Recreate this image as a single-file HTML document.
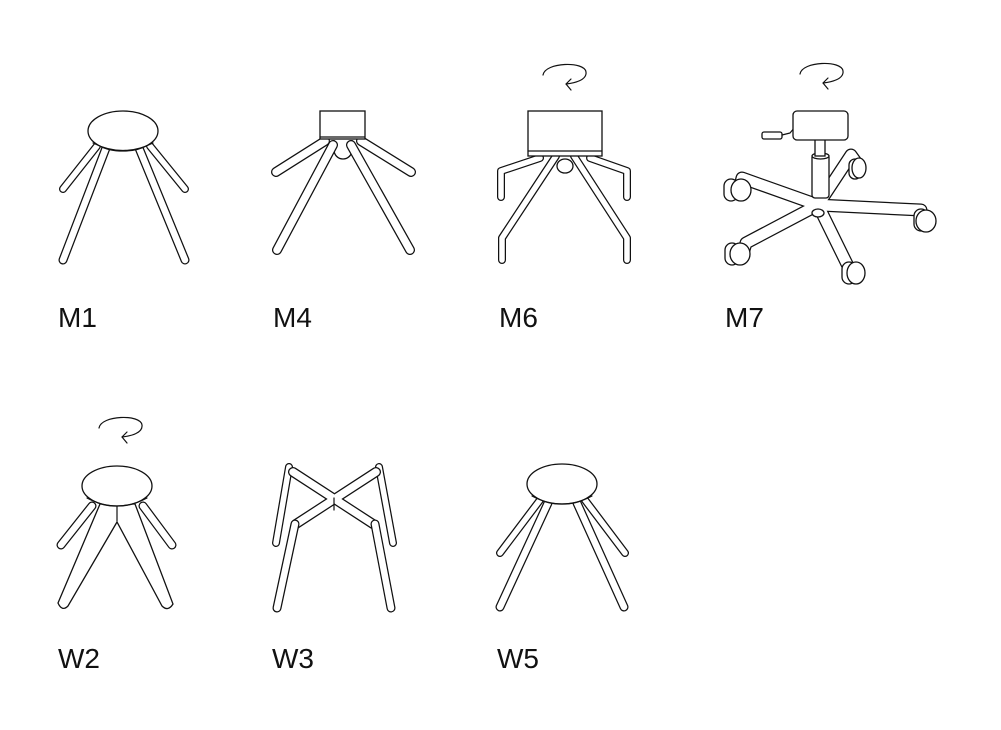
<!DOCTYPE html>
<html><head><meta charset="utf-8"><style>
html,body{margin:0;padding:0;background:#fff;width:1001px;height:730px;overflow:hidden}
svg{display:block}
text{font-family:"Liberation Sans",sans-serif;font-size:28px;fill:#111}
.b{stroke:#111;fill:none;stroke-linecap:round;stroke-linejoin:round}
.w{stroke:#fff;fill:none;stroke-linecap:round;stroke-linejoin:round}
.o{fill:#fff;stroke:#111;stroke-width:1.3}
.t{fill:none;stroke:#111;stroke-width:1.2;stroke-linecap:round;stroke-linejoin:round}
</style></head><body>
<svg width="1001" height="730" viewBox="0 0 1001 730">
<defs>
<g id="rot">
<path class="t" d="M0,0 C2,-13 42,-14 43,-3 C44,5 32,8 23,9"/>
<path class="t" d="M28,4 L23,9 L28,15"/>
</g>
</defs>

<!-- M1 -->
<g>
<g class="b" stroke-width="8"><line x1="97" y1="146" x2="63" y2="189"/><line x1="150" y1="146" x2="185" y2="189"/></g>
<g class="w" stroke-width="5.5"><line x1="97" y1="146" x2="63" y2="189"/><line x1="150" y1="146" x2="185" y2="189"/></g>
<g class="b" stroke-width="9"><line x1="106" y1="148" x2="63" y2="260"/><line x1="139" y1="148" x2="185" y2="260"/></g>
<g class="w" stroke-width="6.5"><line x1="106" y1="148" x2="63" y2="260"/><line x1="139" y1="148" x2="185" y2="260"/></g>
<ellipse class="o" cx="123" cy="131" rx="35" ry="20"/>
<path d="M93,143 Q123,158 153,143" class="t" stroke-width="2"/>
</g>
<text x="58" y="327">M1</text>

<!-- M4 -->
<g>
<g class="b" stroke-width="10"><line x1="325" y1="141" x2="276" y2="172"/><line x1="361" y1="141" x2="411" y2="172"/></g>
<g class="w" stroke-width="7.5"><line x1="325" y1="141" x2="276" y2="172"/><line x1="361" y1="141" x2="411" y2="172"/></g>
<path class="o" d="M334,140 L334,150 A8,8 0 0 0 352,150 L352,140"/>
<g class="b" stroke-width="10"><line x1="333" y1="145" x2="277" y2="250"/><line x1="351" y1="145" x2="410" y2="250"/></g>
<g class="w" stroke-width="7.5"><line x1="333" y1="145" x2="277" y2="250"/><line x1="351" y1="145" x2="410" y2="250"/></g>
<rect class="o" x="320" y="111" width="45" height="28"/>
<line x1="320" y1="137" x2="365" y2="137" class="t"/>
</g>
<text x="273" y="327">M4</text>

<!-- M6 -->
<use href="#rot" x="543" y="75"/>
<g>
<ellipse class="o" cx="565" cy="166" rx="8" ry="7"/>
<g class="b" stroke-width="8"><polyline points="540,158 501,171 501,197"/><polyline points="590,158 627,171 627,197"/>
<polyline points="556,156 502,238 502,260"/><polyline points="574,156 627,238 627,260"/></g>
<g class="w" stroke-width="5.5"><polyline points="540,158 501,171 501,197"/><polyline points="590,158 627,171 627,197"/>
<polyline points="556,156 502,238 502,260"/><polyline points="574,156 627,238 627,260"/></g>
<rect class="o" x="528" y="111" width="74" height="45"/>
<line x1="528" y1="151" x2="602" y2="151" class="t"/>
</g>
<text x="499" y="327">M6</text>

<!-- M7 -->
<use href="#rot" x="800" y="74"/>
<g>
<g class="b" stroke-width="13">
<polyline points="818,205 742,178 740,186"/>
<polyline points="818,205 921,210 922,218"/>
<polyline points="818,205 746,243 744,250"/>
<polyline points="818,205 846,262 850,270"/>
<polyline points="818,205 851,155 856,162"/>
</g>
<g class="w" stroke-width="10.5">
<polyline points="818,205 742,178 740,186"/>
<polyline points="818,205 921,210 922,218"/>
<polyline points="818,205 746,243 744,250"/>
<polyline points="818,205 846,262 850,270"/>
<polyline points="818,205 851,155 856,162"/>
</g>
<ellipse class="o" cx="818" cy="213" rx="6" ry="4"/>
<g>
<rect class="o" x="724" y="179" width="14" height="22" rx="7"/><ellipse class="o" cx="741" cy="190" rx="10" ry="11"/>
<rect class="o" x="914" y="209" width="14" height="22" rx="7"/><ellipse class="o" cx="926" cy="221" rx="10" ry="11"/>
<rect class="o" x="725" y="243" width="14" height="22" rx="7"/><ellipse class="o" cx="740" cy="254" rx="10" ry="11"/>
<rect class="o" x="842" y="262" width="14" height="22" rx="7"/><ellipse class="o" cx="856" cy="273" rx="9" ry="11"/>
<rect class="o" x="849" y="159" width="12" height="20" rx="6"/><ellipse class="o" cx="859" cy="168" rx="7" ry="10"/>
</g>
<rect class="o" x="812" y="154" width="17" height="44" rx="3"/>
<ellipse class="o" cx="820.5" cy="156" rx="8.5" ry="3"/>
<rect class="o" x="815" y="138" width="10" height="18"/>
<rect class="o" x="762" y="132" width="20" height="7" rx="2"/>
<path class="t" d="M782,135 L790,133 L795,127"/>
<rect class="o" x="793" y="111" width="55" height="29" rx="4"/>
</g>
<text x="725" y="327">M7</text>

<!-- W2 -->
<use href="#rot" x="99" y="428"/>
<g>
<g class="b" stroke-width="9"><line x1="92" y1="506" x2="61" y2="545"/><line x1="143" y1="506" x2="172" y2="545"/></g>
<g class="w" stroke-width="6.5"><line x1="92" y1="506" x2="61" y2="545"/><line x1="143" y1="506" x2="172" y2="545"/></g>
<path class="o" d="M100,504 L58,603 Q62,612 68,606 L117,522 L162,606 Q168,612 173,604 L135,504 Z"/>
<line class="t" x1="117" y1="506" x2="117" y2="521"/>
<ellipse class="o" cx="117" cy="486" rx="35" ry="20"/>
<path d="M87,498 Q117,514 147,498" class="t" stroke-width="2"/>
</g>
<text x="58" y="668">W2</text>

<!-- W3 -->
<g>
<g class="b" stroke-width="8"><line x1="289" y1="467" x2="276" y2="543"/><line x1="379" y1="467" x2="393" y2="543"/></g>
<g class="w" stroke-width="5.5"><line x1="289" y1="467" x2="276" y2="543"/><line x1="379" y1="467" x2="393" y2="543"/></g>
<g class="b" stroke-width="10"><line x1="293" y1="472" x2="373" y2="524"/><line x1="376" y1="472" x2="296" y2="524"/></g>
<g class="w" stroke-width="7.5"><line x1="293" y1="472" x2="373" y2="524"/><line x1="376" y1="472" x2="296" y2="524"/></g>
<line class="t" x1="334" y1="498" x2="334" y2="510"/>
<g class="b" stroke-width="9"><line x1="295" y1="524" x2="277" y2="608"/><line x1="375" y1="524" x2="391" y2="608"/></g>
<g class="w" stroke-width="6.5"><line x1="295" y1="524" x2="277" y2="608"/><line x1="375" y1="524" x2="391" y2="608"/></g>
</g>
<text x="272" y="668">W3</text>

<!-- W5 -->
<g>
<g class="b" stroke-width="8"><line x1="540" y1="500" x2="500" y2="553"/><line x1="585" y1="500" x2="625" y2="553"/></g>
<g class="w" stroke-width="5.5"><line x1="540" y1="500" x2="500" y2="553"/><line x1="585" y1="500" x2="625" y2="553"/></g>
<g class="b" stroke-width="9"><line x1="548" y1="503" x2="500" y2="607"/><line x1="577" y1="503" x2="624" y2="607"/></g>
<g class="w" stroke-width="6.5"><line x1="548" y1="503" x2="500" y2="607"/><line x1="577" y1="503" x2="624" y2="607"/></g>
<ellipse class="o" cx="562" cy="484" rx="35" ry="20"/>
<path d="M532,496 Q562,512 592,496" class="t" stroke-width="2"/>
</g>
<text x="497" y="668">W5</text>
</svg>
</body></html>
